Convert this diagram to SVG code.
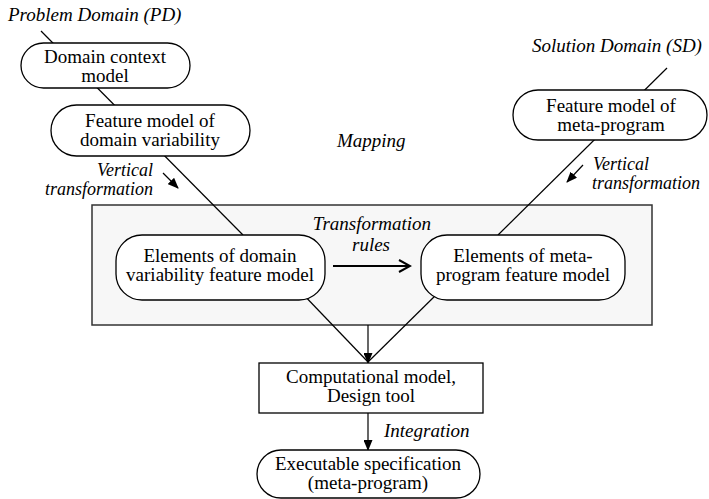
<svg xmlns="http://www.w3.org/2000/svg" width="709" height="499" viewBox="0 0 709 499">
<style>
text{font-family:"Liberation Serif","Times New Roman",serif;font-size:19px;fill:#000}
.it{font-style:italic}
.sm{font-size:18px}
.c{text-anchor:middle}
.node{fill:#fff;stroke:#000;stroke-width:1.3}
.ln{stroke:#000;stroke-width:1.2;fill:none}
</style>
<defs>
<marker id="ah" markerWidth="11" markerHeight="9" refX="10" refY="4.5" orient="auto" markerUnits="userSpaceOnUse">
<path d="M0,0 L11,4.5 L0,9 z" fill="#000"/>
</marker>
<marker id="open" markerWidth="14" markerHeight="14" refX="12" refY="7" orient="auto" markerUnits="userSpaceOnUse">
<path d="M1,1 L12,7 L1,13" fill="none" stroke="#000" stroke-width="2"/>
</marker>
</defs>
<rect id="mapping-area" x="92" y="205" width="560" height="120" fill="#f7f7f7" stroke="#333" stroke-width="1.5"/>
<g id="connectors">
<line class="ln" x1="41" y1="31" x2="243" y2="235"/>
<line class="ln" x1="667" y1="68" x2="498" y2="235"/>
<line class="ln" x1="299" y1="290" x2="368" y2="362"/>
<line class="ln" x1="441" y1="290" x2="368" y2="362"/>
<line class="ln" x1="368" y1="325" x2="368" y2="363" marker-end="url(#ah)"/>
<line class="ln" x1="368" y1="413" x2="368" y2="450" marker-end="url(#ah)"/>
<line class="ln" x1="163" y1="173" x2="178" y2="188" marker-end="url(#ah)"/>
<line class="ln" x1="583" y1="165" x2="567" y2="182" marker-end="url(#ah)"/>
<line x1="333" y1="266" x2="410" y2="266" stroke="#000" stroke-width="2" marker-end="url(#open)"/>
</g>
<g id="labels">
<text class="it" x="8" y="21">Problem Domain (PD)</text>
<text class="it" x="532" y="52">Solution Domain (SD)</text>
<text class="it" x="337" y="147">Mapping</text>
<text class="it sm" x="153" y="176" text-anchor="end">Vertical</text>
<text class="it sm" x="153" y="195" text-anchor="end">transformation</text>
<text class="it sm" x="593" y="170">Vertical</text>
<text class="it sm" x="592" y="189">transformation</text>
<text class="it c" x="372" y="230">Transformation</text>
<text class="it c" x="371" y="251">rules</text>
<text class="it" x="384" y="437">Integration</text>
</g>
<g id="domain-context">
<rect class="node" x="21" y="43" width="169" height="45" rx="22.5"/>
<text class="c" x="105" y="63">Domain context</text>
<text class="c" x="105" y="82">model</text>
</g>
<g id="feature-domain">
<rect class="node" x="51" y="105" width="199" height="51" rx="25.5"/>
<text class="c" x="150" y="127">Feature model of</text>
<text class="c" x="150" y="146">domain variability</text>
</g>
<g id="feature-meta">
<rect class="node" x="513" y="90" width="194" height="50" rx="25"/>
<text class="c" x="611" y="112">Feature model of</text>
<text class="c" x="611" y="131">meta-program</text>
</g>
<g id="elements-domain">
<rect class="node" x="116" y="235" width="209" height="65" rx="26"/>
<text class="c" x="220" y="262">Elements of domain</text>
<text class="c" x="220" y="281">variability feature model</text>
</g>
<g id="elements-meta">
<rect class="node" x="421" y="235" width="204" height="65" rx="26"/>
<text class="c" x="523" y="262">Elements of meta-</text>
<text class="c" x="523" y="281">program feature model</text>
</g>
<g id="computational">
<rect class="node" x="259" y="363" width="224" height="50"/>
<text class="c" x="371" y="383">Computational model,</text>
<text class="c" x="371" y="402">Design tool</text>
</g>
<g id="executable">
<rect class="node" x="257" y="450" width="223" height="48" rx="24"/>
<text class="c" x="368" y="470">Executable specification</text>
<text class="c" x="368" y="489">(meta-program)</text>
</g>
</svg>
